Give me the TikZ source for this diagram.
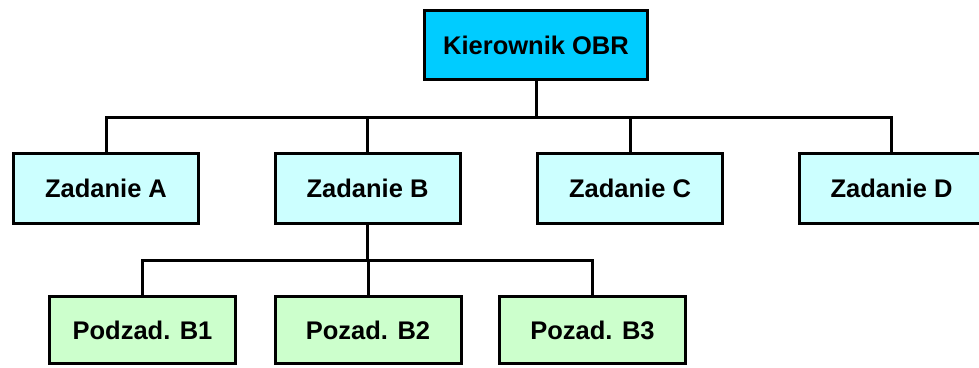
\documentclass[tikz,border=0pt]{standalone}
\usepackage{fontspec}
\setmainfont{Liberation Sans}
\definecolor{headfill}{HTML}{00CCFF}
\definecolor{taskfill}{HTML}{CCFFFF}
\definecolor{subfill}{HTML}{CCFFCC}
\begin{document}
\begin{tikzpicture}[x=1pt,y=-1pt,
  box/.style={draw=black, line width=3pt, inner sep=0pt,
    minimum width=185pt, minimum height=70pt,
    font=\fontsize{25.5}{30}\selectfont\bfseries},
  head/.style={box, fill=headfill, minimum width=223pt, minimum height=69pt},
  task/.style={box, fill=taskfill},
  sub/.style={box, fill=subfill, minimum width=186pt, minimum height=67pt},
  link/.style={draw=black, line width=3pt}]
\useasboundingbox (0,0) rectangle (979,367);

% head of the department
\node[head] (top) at (536,45) {Kierownik OBR};

% tasks
\node[task] (A) at (106,188.5) {Zadanie A};
\node[task] (B) at (367.5,188.5) {Zadanie B};
\node[task] (C) at (630,188.5) {Zadanie C};
\node[task] (D) at (891.5,188.5) {Zadanie D};

% subtasks of B
\node[sub] (B1) at (142.5,330) {Podzad. B1};
\node[sub] (B2) at (368,330) {Pozad. B2};
\node[sub] (B3) at (592.5,330) {Pozad. B3};

% upper bus
\coordinate (j1) at (536,117);
\draw[link] (top) -- (j1);
\draw[link] (A.north) |- (j1) -| (D.north);
\draw[link] (B.north) -- (B.north |- j1);
\draw[link] (C.north) -- (C.north |- j1);

% lower bus
\coordinate (j2) at (367.5,260);
\draw[link] (B.south) -- (j2);
\draw[link] (B1.north) |- (j2) -| (B3.north);
\draw[link] (B2.north) -- (B2.north |- j2);
\end{tikzpicture}
\end{document}
